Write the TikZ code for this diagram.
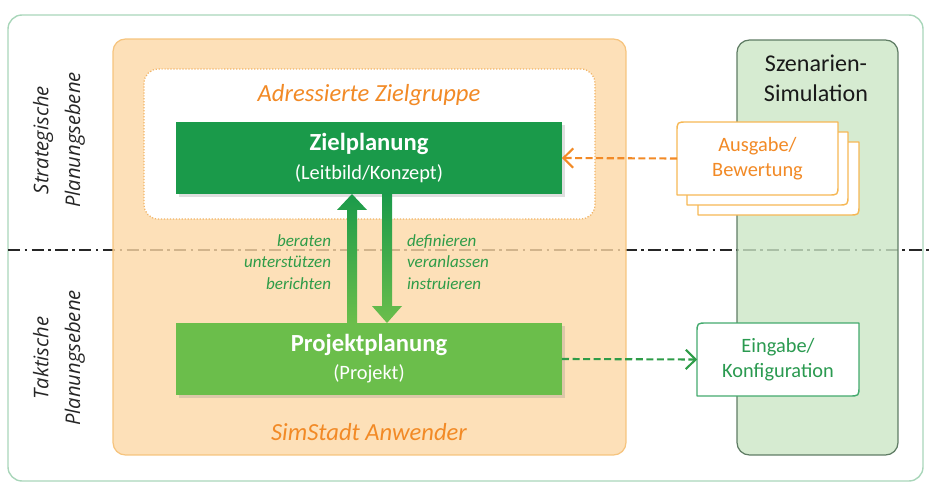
\documentclass[tikz,border=0pt]{standalone}
\usepackage{fontspec}
\setmainfont{Carlito}
\newfontfamily\sidefont{Open Sans}
\usepackage{tikz}
\usetikzlibrary{arrows.meta,calc,shadows}

\definecolor{framegreen}{HTML}{A9D6BA}
\definecolor{anwfill}{HTML}{FCD8A6}
\definecolor{anwborder}{HTML}{F6C47E}
\definecolor{zgborder}{HTML}{F2B466}
\definecolor{simfill}{HTML}{CCE6C6}
\definecolor{simborder}{HTML}{5F7C64}
\definecolor{zdark}{HTML}{1A9A4A}
\definecolor{plight}{HTML}{6BBE4B}
\definecolor{orangetxt}{HTML}{F28A26}
\definecolor{verbgreen}{HTML}{2E9C48}
\definecolor{ausgborder}{HTML}{F6B855}
\definecolor{eingborder}{HTML}{44AA6E}
\definecolor{eingtxt}{HTML}{2A9A50}

\begin{document}
\begin{tikzpicture}[x=0.02cm, y=-0.02cm,
    every node/.style={inner sep=0pt, outer sep=0pt},
    panelbox/.style={rounded corners=7pt, line width=0.7pt, fill opacity=0.8},
    planbox/.style={minimum width=7.72cm, minimum height=1.44cm, align=center, text=white,
        font=\fontsize{11.6}{16}\selectfont,
        drop shadow={opacity=0.25, shadow xshift=1.5pt, shadow yshift=-1.5pt}},
    orangetext/.style={text=orangetxt, font=\itshape\fontsize{14}{16}\selectfont},
    verbtext/.style={text=verbgreen, font=\itshape\fontsize{9.7}{12.2}\selectfont},
    sidetext/.style={rotate=90, align=center, text=black!85,
        font=\sidefont\itshape\fontsize{11.5}{18}\selectfont},
    cardtext/.style={align=center, font=\fontsize{11.6}{14.2}\selectfont},
    cardline/.style={fill=white, line width=0.8pt, line join=round},
    flowarrow/.style={line width=1.2pt, dash pattern=on 4pt off 2pt,
        -{Straight Barb[length=5.5pt, width=11pt, line width=1.2pt]}},
    dashdot/.style={line width=0.7pt, dash pattern=on 7pt off 2.5pt on 1.5pt off 2.5pt}
]
    \useasboundingbox (0,0) rectangle (929,483);

    \draw[framegreen, rounded corners=8pt, line width=0.8pt] (8,15) rectangle (923,481);

    \coordinate (lineL) at (8,250);
    \coordinate (lineR) at (929,250);
    \draw[dashdot, black!85] (lineL) -- (lineR);

    \begin{scope}[
        every node/.style={inner sep=0pt, outer sep=0pt, panelbox}
    ]
        \node[draw=anwborder, fill=anwfill, minimum width=10.26cm, minimum height=8.32cm] (anw) at (369.5,247) {};
        \node[draw=simborder, fill=simfill, minimum width=3.22cm, minimum height=8.3cm] (sim) at (817.5,247.5) {};
    \end{scope}

    \node[draw=zgborder, densely dotted, fill=white, rounded corners=8pt, line width=0.7pt,
        minimum width=9.02cm, minimum height=3cm] (zg) at (369.5,144) {};

    \node[orangetext] (zgtext) at (369,95) {Adressierte Zielgruppe};
    \node[orangetext] (anwtext) at (369,432) {SimStadt Anwender};
    \node[align=center, text=black!90, font=\fontsize{13.7}{17}\selectfont] (simtext) at (816,78) {Szenarien-\\Simulation};

    \node[planbox, fill=zdark] (zp) at (369,158)
        {{\bfseries\fontsize{14}{16}\selectfont Zielplanung}\\(Leitbild/Konzept)};
    \node[planbox, fill=plight] (pp) at (369,359)
        {{\bfseries\fontsize{14}{16}\selectfont Projektplanung}\\(Projekt)};

    \node[sidetext] (strat) at (59,140) {Strategische\\Planungsebene};
    \node[sidetext] (takt) at (59,358) {Taktische\\Planungsebene};

    \node[verbtext, align=right, anchor=east] (verbup) at (331,262) {beraten\\unterstützen\\berichten};
    \node[verbtext, align=left, anchor=west] (verbdown) at (407,262) {definieren\\veranlassen\\instruieren};

    \begin{scope}[
        every node/.style={inner sep=0pt, outer sep=0pt, minimum width=3.22cm, minimum height=1.46cm}
    ]
        \node (ausgc) at (778.5,178.5) {};
        \node (ausgb) at (767.5,168.5) {};
        \node (ausga) at (757.5,158.5) {};
        \node[minimum width=3.24cm] (eing) at (778,359.5) {};
    \end{scope}

    \filldraw[cardline, draw=ausgborder] (ausgc.north east) -- ($(ausgc.north west)+(10,0)$) .. controls (ausgc.north west) .. ($(ausgc.north west)+(0,10)$)
        -- (ausgc.south west) -- ($(ausgc.south east)+(-10,0)$) .. controls (ausgc.south east) .. ($(ausgc.south east)+(0,-10)$) -- cycle;
    \filldraw[cardline, draw=ausgborder] (ausgb.north east) -- ($(ausgb.north west)+(10,0)$) .. controls (ausgb.north west) .. ($(ausgb.north west)+(0,10)$)
        -- (ausgb.south west) -- ($(ausgb.south east)+(-10,0)$) .. controls (ausgb.south east) .. ($(ausgb.south east)+(0,-10)$) -- cycle;
    \filldraw[cardline, draw=ausgborder] (ausga.north east) -- ($(ausga.north west)+(10,0)$) .. controls (ausga.north west) .. ($(ausga.north west)+(0,10)$)
        -- (ausga.south west) -- ($(ausga.south east)+(-10,0)$) .. controls (ausga.south east) .. ($(ausga.south east)+(0,-10)$) -- cycle;
    \filldraw[cardline, draw=eingborder] (eing.north east) -- ($(eing.north west)+(10,0)$) .. controls (eing.north west) .. ($(eing.north west)+(0,10)$)
        -- (eing.south west) -- ($(eing.south east)+(-10,0)$) .. controls (eing.south east) .. ($(eing.south east)+(0,-10)$) -- cycle;

    \node[cardtext, text=orangetxt] (ausgtext) at (ausga) {Ausgabe/\\Bewertung};
    \node[cardtext, text=eingtxt] (eingtext) at (eing) {Eingabe/\\Konfiguration};

    \coordinate (upx) at (352,0);
    \coordinate (downx) at (387,0);
    \shade[top color=zdark, bottom color=plight]
        ($(pp.north -| upx)+(-5,0)$) -- ($(zp.south -| upx)+(-5,16)$) -- ($(zp.south -| upx)+(-15,16)$)
        -- (zp.south -| upx) -- ($(zp.south -| upx)+(15,16)$) -- ($(zp.south -| upx)+(5,16)$)
        -- ($(pp.north -| upx)+(5,0)$) -- cycle;
    \shade[top color=zdark, bottom color=plight]
        ($(zp.south -| downx)+(-5,0)$) -- ($(pp.north -| downx)+(-5,-17)$) -- ($(pp.north -| downx)+(-15,-17)$)
        -- (pp.north -| downx) -- ($(pp.north -| downx)+(15,-17)$) -- ($(pp.north -| downx)+(5,-17)$)
        -- ($(zp.south -| downx)+(5,0)$) -- cycle;

    \begin{scope}[
        every edge/.style={draw, flowarrow}
    ]
        \path [draw=orangetxt] (ausga.west) edge (zp.east);
        \path [draw=verbgreen] (pp.east) edge (eing.west);
    \end{scope}
\end{tikzpicture}
\end{document}
